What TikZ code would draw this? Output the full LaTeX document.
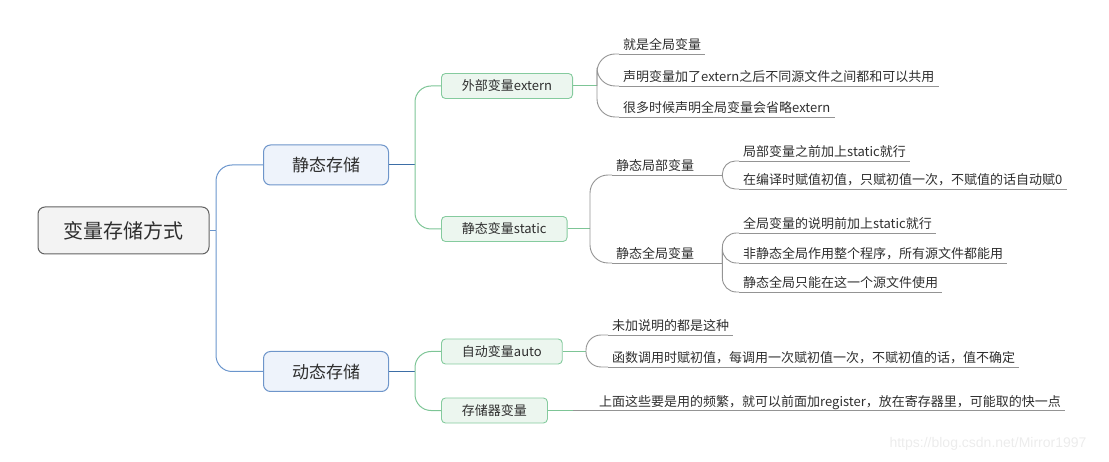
\documentclass[tikz,border=0pt]{standalone}
\usepackage{fontspec}
\setmainfont{Noto Sans CJK SC}
\newfontfamily\markfont{Liberation Sans}
\usetikzlibrary{calc}

\begin{document}
\begin{tikzpicture}[x=1pt, y=-1pt,
    rootbox/.style={draw=borderRoot, fill=fillRoot, rounded corners=7pt, line width=1pt,
        minimum width=171pt, minimum height=47pt, text=textColour, font=\fontsize{20}{24}\selectfont},
    topbox/.style={draw=borderTop, fill=fillTop, rounded corners=7pt, line width=1pt, anchor=west,
        minimum width=125pt, minimum height=40pt, text=textColour, font=\fontsize{17}{20}\selectfont},
    subbox/.style={draw=borderSub, fill=fillSub, rounded corners=4pt, line width=0.9pt, anchor=west,
        inner xsep=20.5pt, minimum height=25pt, text=textColour, font=\fontsize{13}{15}\selectfont},
    leaf/.style={anchor=south west, inner xsep=4pt, inner ysep=1pt, text=textColour,
        text height=10pt, text depth=3pt, font=\fontsize{13}{15}\selectfont},
    rootline/.style={draw=lineBlue, line width=1pt},
    branchline/.style={draw=lineBlueDark, line width=1pt},
    subline/.style={draw=lineGreen, line width=1pt},
    leafline/.style={draw=lineGray, line width=0.9pt}]
    \definecolor{borderRoot}{HTML}{626262}
    \definecolor{fillRoot}{HTML}{F3F3F3}
    \definecolor{borderTop}{HTML}{6E95CA}
    \definecolor{fillTop}{HTML}{EEF3FB}
    \definecolor{borderSub}{HTML}{85CB9E}
    \definecolor{fillSub}{HTML}{ECF6EF}
    \definecolor{lineBlue}{HTML}{6A95CC}
    \definecolor{lineBlueDark}{HTML}{3D6EA6}
    \definecolor{lineGreen}{HTML}{7DC596}
    \definecolor{lineGray}{HTML}{949494}
    \definecolor{textColour}{HTML}{2E2E2E}
    \definecolor{markColour}{HTML}{ECECEC}

    \useasboundingbox (0,0) rectangle (1109,462);

    % Root and first level
    \node[rootbox] (root) at (123.5,230.5) {变量存储方式};
    \node[topbox] (static) at (263,165) {静态存储};
    \node[topbox] (dynamic) at (263,371.5) {动态存储};

    % Second level
    \node[subbox] (extern) at (441,86) {外部变量extern};
    \node[subbox] (svar) at (441,229) {静态变量static};
    \node[subbox] (auto) at (441,351.5) {自动变量auto};
    \node[subbox] (reg) at (441,410.5) {存储器变量};

    % Fork points
    \coordinate (rootFork) at (216,230.5);
    \coordinate (staticFork) at (415,165);
    \coordinate (dynamicFork) at (415,371.5);
    \coordinate (externFork) at (597,86);
    \coordinate (svarFork) at (590,229);
    \coordinate (autoFork) at (586,351.5);
    \coordinate (regFork) at (573,410.5);

    % Leaves
    \node[leaf] (e1) at (619,54) {就是全局变量};
    \node[leaf] (e2) at (619,86) {声明变量加了extern之后不同源文件之间都和可以共用};
    \node[leaf] (e3) at (619,117) {很多时候声明全局变量会省略extern};
    \node[leaf] (sl) at (612,175) {静态局部变量};
    \node[leaf] (sg) at (612,263) {静态全局变量};
    \node[leaf] (sl1) at (739,161) {局部变量之前加上static就行};
    \node[leaf] (sl2) at (739,189) {在编译时赋值初值，只赋初值一次，不赋值的话自动赋0};
    \node[leaf] (sg1) at (739,233) {全局变量的说明前加上static就行};
    \node[leaf] (sg2) at (739,263) {非静态全局作用整个程序，所有源文件都能用};
    \node[leaf] (sg3) at (739,292) {静态全局只能在这一个源文件使用};
    \node[leaf] (a1) at (608,335) {未加说明的都是这种};
    \node[leaf] (a2) at (608,367) {函数调用时赋初值，每调用一次赋初值一次，不赋初值的话，值不确定};
    \node[leaf] (r1) at (595,410.5) {上面这些要是用的频繁，就可以前面加register，放在寄存器里，可能取的快一点};

    \coordinate (slFork) at ($(sl.south east)+(24,0)$);
    \coordinate (sgFork) at ($(sg.south east)+(24,0)$);

    % Draw underlines
    \foreach \n in {e1,e2,e3,sl,sg,sl1,sl2,sg1,sg2,sg3,a1,a2,r1}
        \draw[leafline] (\n.south west) -- (\n.south east);

    % Draw root connectors
    \draw[rootline] (root.east) -- (rootFork);
    \draw[rootline, rounded corners=16pt] (rootFork) |- (static.west);
    \draw[rootline, rounded corners=16pt] (rootFork) |- (dynamic.west);

    % Draw first level connectors
    \draw[branchline] (static.east) -- (staticFork);
    \draw[branchline] (dynamic.east) -- (dynamicFork);
    \foreach \s in {extern,svar}
        \draw[subline, rounded corners=16pt] (staticFork) |- (\s.west);
    \foreach \s in {auto,reg}
        \draw[subline, rounded corners=16pt] (dynamicFork) |- (\s.west);

    % Draw second level connectors
    \draw[subline] (extern.east) -- (externFork);
    \draw[subline] (svar.east) -- (svarFork);
    \draw[subline] (auto.east) -- (autoFork);
    \draw[subline] (reg.east) -- (regFork);
    \foreach \n in {e1,e2,e3}
        \draw[leafline, rounded corners=18pt] (externFork) |- (\n.south west);
    \foreach \n in {sl,sg}
        \draw[leafline, rounded corners=18pt] (svarFork) |- (\n.south west);
    \foreach \n in {a1,a2}
        \draw[leafline, rounded corners=15pt] (autoFork) |- (\n.south west);
    \draw[leafline] (regFork) -- (r1.south west);

    % Draw third level connectors
    \draw[leafline] (sl.south east) -- (slFork);
    \draw[leafline] (sg.south east) -- (sgFork);
    \foreach \n in {sl1,sl2}
        \draw[leafline, rounded corners=13pt] (slFork) |- (\n.south west);
    \foreach \n in {sg1,sg2,sg3}
        \draw[leafline, rounded corners=14pt] (sgFork) |- (\n.south west);

    % Watermark
    \node[font=\markfont\fontsize{14}{16}\selectfont, text=markColour] (mark) at (988,444) {https://blog.csdn.net/Mirror1997};

\end{tikzpicture}
\end{document}
